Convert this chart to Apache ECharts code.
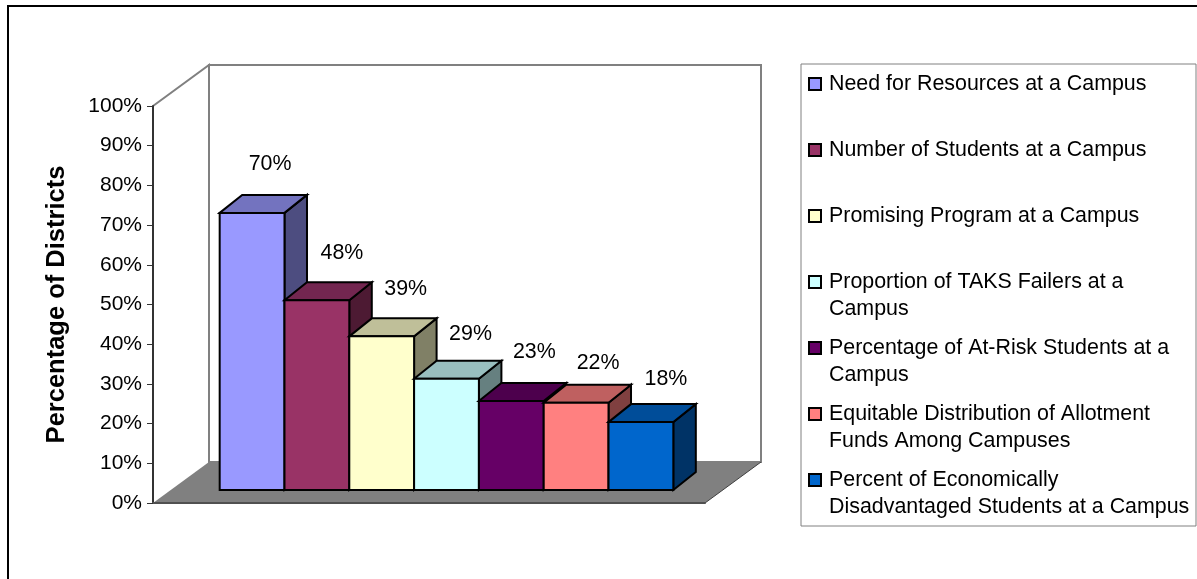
<!DOCTYPE html>
<html>
<head>
<meta charset="utf-8">
<style>html,body{margin:0;padding:0;background:#fff}#c{width:1197px;height:579px}</style>
<script src="https://cdn.jsdelivr.net/npm/echarts@6/dist/echarts.min.js"></script>
</head>
<body>
<div id="c"></div>
<script>
const categories = [
  "Need for Resources at a Campus",
  "Number of Students at a Campus",
  "Promising Program at a Campus",
  "Proportion of TAKS Failers at a\nCampus",
  "Percentage of At-Risk Students at a\nCampus",
  "Equitable Distribution of Allotment\nFunds Among Campuses",
  "Percent of Economically\nDisadvantaged Students at a Campus"
];
const barHeights = [69.8, 47.8, 38.7, 28.0, 22.4, 22.0, 17.1];
const valueLabels = ["70%", "48%", "39%", "29%", "23%", "22%", "18%"];
const frontColors = ["#9999FF", "#993366", "#FFFFCC", "#CCFFFF", "#660066", "#FF8080", "#0066CC"];
const topColors = ["#7373BF", "#732650", "#BFBF99", "#99BFBF", "#4D004D", "#BF6060", "#004D99"];
const sideColors = ["#4D4D80", "#4D1A33", "#808066", "#668080", "#330033", "#804040", "#003366"];
const labelNudgeX = [18, 25, 24, 24, 23, 22, 25];
const labelNudgeY = [-49, -47, -47, -45, -49, -40, -43];
const yTicks = [0, 100];

const FONT = '"Liberation Sans", Arial, sans-serif';
const wallDX = 56, wallDY = 41;
const barDX = 22.5, barDY = 18;
const floorDX = 17.5, floorDY = 13;
const barRatio = 0.1174;

function wallItem(params, api) {
  const o = api.coord([0, 0]), t = api.coord([0, 100]);
  const w = api.size([1, 0])[0];
  const x0 = o[0] - w / 2, x1 = o[0] + w / 2, y0 = o[1], y1 = t[1];
  const gray = { stroke: "#808080", lineWidth: 2, fill: null };
  return {
    type: "group",
    children: [
      { type: "polygon", shape: { points: [[x0 + wallDX, y1 - wallDY], [x1 + wallDX, y1 - wallDY], [x1 + wallDX, y0 - wallDY], [x0 + wallDX, y0 - wallDY]] }, style: { fill: "#fff", stroke: "#808080", lineWidth: 2 } },
      { type: "polyline", shape: { points: [[x0, y1], [x0 + wallDX, y1 - wallDY], [x0 + wallDX, y0 - wallDY]] }, style: gray },
      { type: "polygon", shape: { points: [[x0, y0], [x0 + wallDX, y0 - wallDY], [x1 + wallDX, y0 - wallDY], [x1, y0]] }, style: { fill: "#808080" } },
      { type: "line", shape: { x1: x1, y1: y0, x2: x1 + wallDX, y2: y0 - wallDY }, style: { stroke: "#404040", lineWidth: 1 } }
    ]
  };
}

function barItem(i) {
  return function (params, api) {
    const c = api.coord([0, barHeights[i]]);
    const b = api.coord([0, 0]);
    const w = api.size([1, 0])[0] * barRatio;
    const x0 = c[0] + (i - 3.5) * w + floorDX, x1 = x0 + w;
    const yB = b[1] - floorDY, yT = c[1] - floorDY;
    const edge = { stroke: "#000", lineWidth: 2, lineJoin: "miter" };
    return {
      type: "group",
      children: [
        { type: "polygon", shape: { points: [[x1, yT], [x1 + barDX, yT - barDY], [x1 + barDX, yB - barDY], [x1, yB]] }, style: Object.assign({ fill: sideColors[i] }, edge) },
        { type: "polygon", shape: { points: [[x0, yT], [x0 + barDX, yT - barDY], [x1 + barDX, yT - barDY], [x1, yT]] }, style: Object.assign({ fill: topColors[i] }, edge) },
        { type: "rect", shape: { x: x0, y: yT, width: w, height: yB - yT }, style: Object.assign({ fill: frontColors[i] }, edge) },
        { type: "text", style: { text: valueLabels[i], x: x0 + w / 2 + labelNudgeX[i], y: yT + labelNudgeY[i], fill: "#000", font: '21.4px ' + FONT, align: "center", verticalAlign: "middle" } }
      ]
    };
  };
}

const series = [{
  type: "custom", name: "walls", silent: true, clip: false, z: 1,
  data: [[0, 0]], encode: { x: 0, y: 1 }, renderItem: wallItem
}].concat(categories.map((name, i) => ({
  type: "custom", name: name, clip: false, z: 2 + i, silent: true,
  itemStyle: { color: frontColors[i] },
  data: [[0, barHeights[i]]], encode: { x: 0, y: 1 }, renderItem: barItem(i)
})));

const legendMid = [84, 150, 216, 282, 348, 414, 480];
const legends = categories.map((name, i) => {
  const two = name.indexOf("\n") >= 0;
  return {
    data: [name], left: 808, top: legendMid[i] - (two ? 40.5 : 13.5), padding: 0,
    orient: "vertical", icon: "rect", itemWidth: 12, itemHeight: 12, selectedMode: false,
    itemStyle: { borderColor: "#000", borderWidth: 2 },
    formatter: (n) => two ? "\n" + n : n,
    textStyle: { color: "#000", fontFamily: FONT, fontSize: 21.4, lineHeight: 27, padding: [0, 0, 0, 3] }
  };
});

const chart = echarts.init(document.getElementById("c"), null, { renderer: "canvas" });
chart.setOption({
  animation: false,
  backgroundColor: "#fff",
  grid: { left: 153, top: 106, width: 552, height: 397 },
  xAxis: {
    type: "category", data: [""], z: 20,
    axisLine: { lineStyle: { color: "#505050", width: 2 } },
    axisTick: { show: false }, axisLabel: { show: false }
  },
  yAxis: {
    type: "value", min: yTicks[0], max: yTicks[1], interval: 10, z: 20,
    name: "Percentage of Districts", nameLocation: "middle", nameGap: 77, nameRotate: 90,
    nameTextStyle: { color: "#000", fontFamily: FONT, fontSize: 25.5, fontWeight: "bold", padding: [0, 0, 6, 0] },
    axisLine: { show: true, lineStyle: { color: "#333", width: 2 } },
    axisTick: { show: true, length: 6, lineStyle: { color: "#333", width: 1 } },
    axisLabel: { formatter: "{value}%", color: "#000", fontFamily: FONT, fontSize: 21, margin: 11 },
    splitLine: { show: false }
  },
  legend: legends,
  tooltip: { show: false },
  graphic: [
    { type: "polyline", silent: true, z: -1, shape: { points: [[8, 579], [8, 6], [1197, 6]] }, style: { fill: null, stroke: "#000", lineWidth: 2 } },
    { type: "rect", silent: true, z: -1, shape: { x: 801, y: 64, width: 395, height: 462 }, style: { fill: "#fff", stroke: "#808080", lineWidth: 1 } }
  ],
  series: series
});
</script>
</body>
</html>
